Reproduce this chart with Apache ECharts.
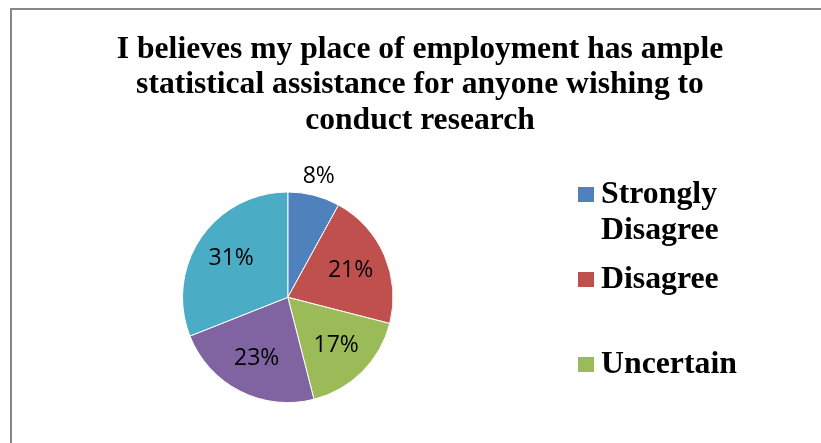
<!DOCTYPE html>
<html>
<head>
<meta charset="utf-8">
<script src="https://cdn.jsdelivr.net/npm/echarts@6/dist/echarts.min.js"></script>
<style>
  html, body { margin: 0; padding: 0; background: #fff; }
  #chart { width: 821px; height: 443px; }
</style>
</head>
<body>
<div id="chart"></div>
<script>
// Survey answers (percent of respondents)
const titleText = 'I believes my place of employment has ample\nstatistical assistance for anyone wishing to\nconduct research';
const categories = ['Strongly Disagree', 'Disagree', 'Uncertain', 'Agree', 'Strongly Agree'];
const percentages = [8, 21, 17, 23, 31];
const sliceColors = ['#4F81BD', '#C0504D', '#9BBB59', '#8064A2', '#4BACC6'];
const legendShown = ['Strongly Disagree', 'Disagree', 'Uncertain'];

const serifFont = "'Liberation Serif', 'Times New Roman', serif";
const labelFont = "'Open Sans', 'Noto Sans', sans-serif";

const pieCenter = [287.8, 297.3];
const pieRadius = 105.3;
const total = percentages.reduce((a, b) => a + b, 0);

// Percent labels: inside the slice, or just outside for narrow slices
function labelPos(i) {
  let before = 0;
  for (let k = 0; k < i; k++) before += percentages[k];
  const mid = (before + percentages[i] / 2) / total * 2 * Math.PI;
  const r = percentages[i] < 10 ? pieRadius + 19 : pieRadius * 0.65;
  return [pieCenter[0] + r * Math.sin(mid), pieCenter[1] - r * Math.cos(mid)];
}

// Legend entries wrap multi-word names; the marker sits on the first line
const legendLineHeight = 36;
function legendLabel(name) {
  return name.indexOf(' ') >= 0 ? '\n' + name.replace(' ', '\n') : name;
}
const legends = legendShown.map((name, i) => {
  const lines = legendLabel(name).split('\n').length;
  const markerMid = 194.5 + 85 * i;
  return {
    data: [name],
    orient: 'vertical',
    left: 578,
    top: markerMid - lines * legendLineHeight / 2,
    padding: 0,
    itemWidth: 16,
    itemHeight: 15,
    icon: 'rect',
    selectedMode: false,
    formatter: legendLabel,
    itemStyle: { borderWidth: 0 },
    textStyle: {
      fontFamily: serifFont, fontWeight: 'bold', fontSize: 31.8,
      lineHeight: legendLineHeight, color: '#000', padding: [0, 0, 0, 2]
    }
  };
});

const chart = echarts.init(document.getElementById('chart'), null, { renderer: 'canvas' });
chart.setOption({
  animation: false,
  backgroundColor: '#fff',
  graphic: [{
    type: 'rect',
    silent: true,
    z: -1,
    shape: { x: 11, y: 9, width: 1000, height: 1000 },
    style: { fill: null, stroke: '#878787', lineWidth: 2 }
  }],
  title: {
    text: titleText,
    left: 420,
    top: 32,
    textAlign: 'center',
    padding: 0,
    textStyle: {
      fontFamily: serifFont, fontWeight: 'bold', fontSize: 31.6,
      lineHeight: 35.5, color: '#000'
    }
  },
  legend: legends,
  series: [{
    type: 'pie',
    center: pieCenter,
    radius: pieRadius,
    startAngle: 90,
    clockwise: true,
    avoidLabelOverlap: false,
    silent: true,
    data: categories.map((name, i) => ({
      name: name,
      value: percentages[i],
      itemStyle: { color: sliceColors[i] }
    })),
    itemStyle: { borderColor: '#ffffff', borderWidth: 1 },
    label: {
      show: true,
      position: 'inside',
      formatter: '{c}%',
      fontFamily: labelFont,
      fontSize: 23,
      color: '#000'
    },
    labelLine: { show: false },
    labelLayout: (p) => {
      const [x, y] = labelPos(p.dataIndex);
      return { x: x, y: y, align: 'center', verticalAlign: 'middle' };
    },
    emphasis: { disabled: true }
  }]
});
</script>
</body>
</html>
